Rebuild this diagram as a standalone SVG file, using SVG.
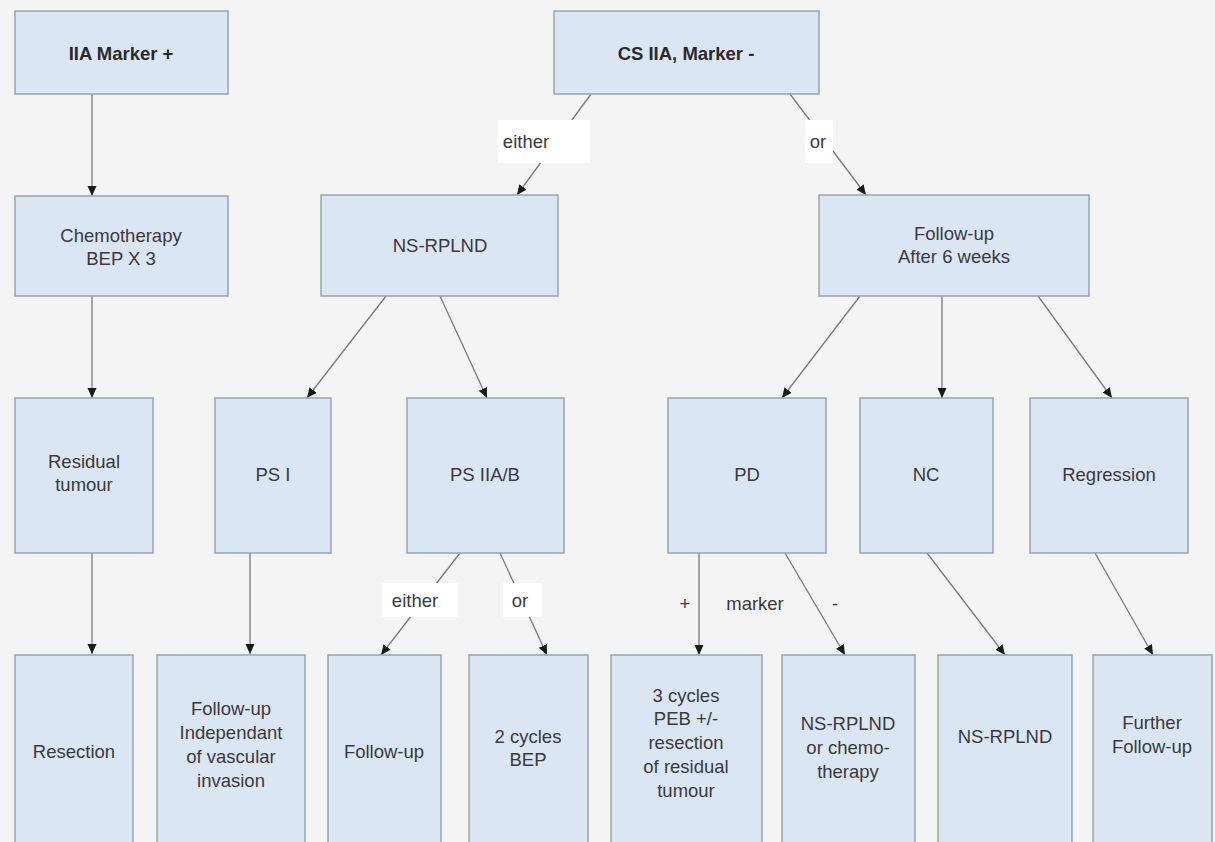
<svg xmlns="http://www.w3.org/2000/svg" width="1215" height="842" viewBox="0 0 1215 842">
<defs>
<marker id="ah" markerWidth="11" markerHeight="10" refX="10" refY="4.5" orient="auto" markerUnits="userSpaceOnUse">
<path d="M0,0 L10,4.5 L0,9 z" fill="#1a1a1a"/>
</marker>
<style>
.box{fill:#dbe6f5;stroke:#98a2ad;stroke-width:1.5}
.t{font-family:"Liberation Sans",Arial,sans-serif;font-size:18.5px;fill:#3a3a3a;text-anchor:middle}
.b{font-weight:bold;fill:#2a2a2a}
.c{stroke:#7a7a7a;stroke-width:1.3;fill:none;marker-end:url(#ah)}
.lb{fill:#ffffff;stroke:none}
</style>
</defs>
<rect width="1215" height="842" fill="#f4f4f4"/>
<g id="connectors">
<line class="c" x1="92" y1="94" x2="92" y2="196"/>
<line class="c" x1="92" y1="296" x2="92" y2="398"/>
<line class="c" x1="92" y1="553" x2="92" y2="654"/>
<line class="c" x1="250" y1="553" x2="250" y2="654"/>
<line class="c" x1="591" y1="94" x2="517" y2="195"/>
<line class="c" x1="790" y1="94" x2="866" y2="195"/>
<line class="c" x1="386" y1="296" x2="307" y2="398"/>
<line class="c" x1="440" y1="296" x2="487" y2="398"/>
<line class="c" x1="860" y1="296" x2="782" y2="398"/>
<line class="c" x1="942" y1="296" x2="942" y2="398"/>
<line class="c" x1="1038" y1="296" x2="1112" y2="398"/>
<line class="c" x1="460" y1="553" x2="381" y2="655"/>
<line class="c" x1="500" y1="553" x2="547" y2="655"/>
<line class="c" x1="699" y1="553" x2="699" y2="655"/>
<line class="c" x1="785" y1="553" x2="845" y2="655"/>
<line class="c" x1="927" y1="553" x2="1005" y2="655"/>
<line class="c" x1="1095" y1="553" x2="1153" y2="655"/>
<rect class="lb" x="498" y="120" width="92" height="43"/>
<text class="t" x="526" y="148">either</text>
<rect class="lb" x="805" y="120" width="28" height="43"/>
<text class="t" x="818" y="148">or</text>
<rect class="lb" x="382" y="583" width="76" height="34"/>
<text class="t" x="415" y="607">either</text>
<rect class="lb" x="503" y="583" width="39" height="34"/>
<text class="t" x="520" y="607">or</text>
<text class="t" x="685" y="610">+</text>
<text class="t" x="755" y="610">marker</text>
<text class="t" x="835" y="610">-</text>
</g>
<g id="n1"><rect class="box" x="15" y="11" width="213" height="83"/><text class="t b" x="121" y="60">IIA Marker +</text></g>
<g id="n2"><rect class="box" x="554" y="11" width="265" height="83"/><text class="t b" x="686" y="60">CS IIA, Marker -</text></g>
<g id="n3"><rect class="box" x="15" y="196" width="213" height="100"/><text class="t" x="121" y="242">Chemotherapy</text><text class="t" x="121" y="265">BEP X 3</text></g>
<g id="n4"><rect class="box" x="321" y="195" width="237" height="101"/><text class="t" x="440" y="252">NS-RPLND</text></g>
<g id="n5"><rect class="box" x="819" y="195" width="270" height="101"/><text class="t" x="954" y="240">Follow-up</text><text class="t" x="954" y="263">After 6 weeks</text></g>
<g id="n6"><rect class="box" x="15" y="398" width="138" height="155"/><text class="t" x="84" y="468">Residual</text><text class="t" x="84" y="491">tumour</text></g>
<g id="n7"><rect class="box" x="215" y="398" width="116" height="155"/><text class="t" x="273" y="481">PS I</text></g>
<g id="n8"><rect class="box" x="407" y="398" width="157" height="155"/><text class="t" x="485" y="481">PS IIA/B</text></g>
<g id="n9"><rect class="box" x="668" y="398" width="158" height="155"/><text class="t" x="747" y="481">PD</text></g>
<g id="n10"><rect class="box" x="860" y="398" width="133" height="155"/><text class="t" x="926" y="481">NC</text></g>
<g id="n11"><rect class="box" x="1030" y="398" width="158" height="155"/><text class="t" x="1109" y="481">Regression</text></g>
<g id="n12"><rect class="box" x="15" y="655" width="118" height="200"/><text class="t" x="74" y="758">Resection</text></g>
<g id="n13"><rect class="box" x="157" y="655" width="148" height="200"/><text class="t" x="231" y="715">Follow-up</text><text class="t" x="231" y="739">Independant</text><text class="t" x="231" y="763">of vascular</text><text class="t" x="231" y="787">invasion</text></g>
<g id="n14"><rect class="box" x="328" y="655" width="113" height="200"/><text class="t" x="384" y="758">Follow-up</text></g>
<g id="n15"><rect class="box" x="469" y="655" width="119" height="200"/><text class="t" x="528" y="743">2 cycles</text><text class="t" x="528" y="766">BEP</text></g>
<g id="n16"><rect class="box" x="611" y="655" width="151" height="200"/><text class="t" x="686" y="702">3 cycles</text><text class="t" x="686" y="725">PEB +/-</text><text class="t" x="686" y="749">resection</text><text class="t" x="686" y="773">of residual</text><text class="t" x="686" y="797">tumour</text></g>
<g id="n17"><rect class="box" x="782" y="655" width="133" height="200"/><text class="t" x="848" y="730">NS-RPLND</text><text class="t" x="848" y="754">or chemo-</text><text class="t" x="848" y="778">therapy</text></g>
<g id="n18"><rect class="box" x="938" y="655" width="134" height="200"/><text class="t" x="1005" y="743">NS-RPLND</text></g>
<g id="n19"><rect class="box" x="1093" y="655" width="119" height="200"/><text class="t" x="1152" y="729">Further</text><text class="t" x="1152" y="753">Follow-up</text></g>
</svg>
